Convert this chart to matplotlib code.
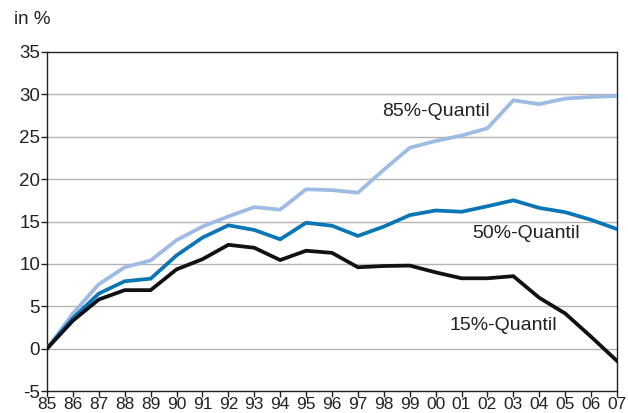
import matplotlib
matplotlib.use("Agg")
import matplotlib.pyplot as plt

years = ["85", "86", "87", "88", "89", "90", "91", "92", "93", "94", "95", "96",
         "97", "98", "99", "00", "01", "02", "03", "04", "05", "06", "07"]
q85 = [0, 4.15, 7.6, 9.6, 10.4, 12.8, 14.4, 15.6, 16.7, 16.4, 18.8, 18.7,
       18.4, 21.1, 23.7, 24.5, 25.15, 26.0, 29.3, 28.85, 29.5, 29.7, 29.8]
q50 = [0, 3.6, 6.5, 7.95, 8.25, 11.0, 13.1, 14.55, 14.0, 12.9, 14.85, 14.5,
       13.3, 14.4, 15.75, 16.3, 16.15, 16.8, 17.5, 16.6, 16.1, 15.2, 14.1]
q15 = [0, 3.3, 5.8, 6.9, 6.9, 9.35, 10.55, 12.25, 11.9, 10.45, 11.55, 11.3,
       9.6, 9.75, 9.8, 9.0, 8.3, 8.3, 8.55, 6.0, 4.15, 1.4, -1.45]
yticks = [-5, 0, 5, 10, 15, 20, 25, 30, 35]

plt.rcParams['font.family'] = ['Liberation Sans', 'DejaVu Sans']

fig = plt.figure(figsize=(6.28, 4.13), dpi=100)
ax = fig.add_axes([47/628, 1 - 391/413, (617-47)/628, (391-52)/413])

x = list(range(len(years)))
ax.plot(x, q85, color='#9dbbe3', lw=2.7, solid_joinstyle='miter', zorder=3)
ax.plot(x, q50, color='#0a76b6', lw=2.7, solid_joinstyle='miter', zorder=4)
ax.plot(x, q15, color='#111111', lw=2.7, solid_joinstyle='miter', zorder=5)

ax.set_xlim(0, len(years) - 1)
ax.set_ylim(-5, 35)
ax.set_xticks(x)
ax.set_xticklabels(years)
ax.set_yticks(yticks)
ax.set_yticklabels([str(v) for v in yticks])
for v in yticks[1:-1]:
    ax.axhline(v, color='#b3b3b3', lw=1.0, zorder=1)

for s in ax.spines.values():
    s.set_color('#222222')
    s.set_linewidth(1.0)
ax.tick_params(axis='both', direction='out', length=4, width=1.0,
               color='#222222', labelsize=13.5, labelcolor='#222222', pad=1)
ax.tick_params(axis='x', labelsize=12.5, pad=0.5)

ax.text(15.0, 28.0, "85%-Quantil", fontsize=14, color='#222222', ha='center', va='center')
ax.text(18.5, 13.6, "50%-Quantil", fontsize=14, color='#222222', ha='center', va='center')
ax.text(17.6, 2.7, "15%-Quantil", fontsize=14, color='#222222', ha='center', va='center')
fig.text(14/628, 1 - 20/413, "in %", fontsize=13.5, color='#222222', ha='left', va='center')

fig.savefig("out.png", dpi=100)
